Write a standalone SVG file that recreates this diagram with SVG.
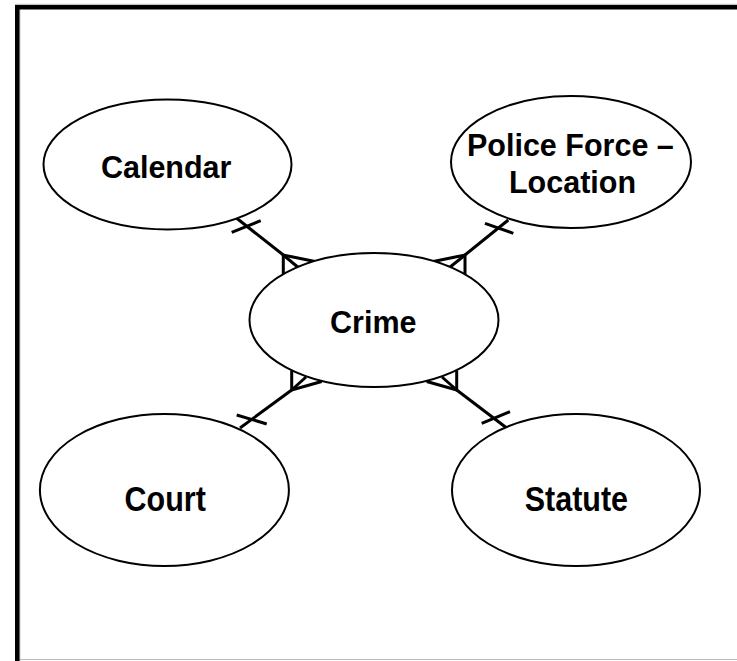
<svg xmlns="http://www.w3.org/2000/svg" width="737" height="661" viewBox="0 0 737 661">
<style>
.ent{fill:#fff;stroke:#000;stroke-width:2}
.lbl{font-family:"Liberation Sans",Arial,sans-serif;font-weight:bold;font-size:30.5px;fill:#000;text-anchor:middle}
.ln{stroke:#000;stroke-width:3;fill:none;stroke-linecap:butt}
</style>
<rect x="0" y="0" width="737" height="661" fill="#fff"/>
<g id="frame">
<line x1="15" y1="4.3" x2="737" y2="4.3" stroke="#bbb" stroke-width="1"/>
<line x1="20" y1="659.5" x2="737" y2="659.5" stroke="#bbb" stroke-width="1"/>
<line x1="19.8" y1="9" x2="19.8" y2="661" stroke="#999" stroke-width="0.8"/>
<rect x="15" y="5" width="722" height="4.5" fill="#000"/>
<rect x="15" y="5" width="4.5" height="656" fill="#000"/>
</g>
<g id="connectors">
<g id="calendar-crime">
<line class="ln" x1="236.7" y1="218.3" x2="283.3" y2="255"/>
<line class="ln" x1="231.7" y1="232.3" x2="260.7" y2="220.7"/>
<polyline class="ln" points="283.3,274 283.3,255 315,261.5"/>
<line class="ln" x1="283.3" y1="255" x2="298.3" y2="267.5"/>
</g>
<g id="police-crime">
<line class="ln" x1="508.3" y1="220" x2="465" y2="255"/>
<line class="ln" x1="485" y1="223.3" x2="513.3" y2="233.3"/>
<polyline class="ln" points="465,274 465,255 433.3,261.5"/>
<line class="ln" x1="465" y1="255" x2="449.5" y2="267.5"/>
</g>
<g id="court-crime">
<line class="ln" x1="240" y1="428" x2="291.7" y2="390"/>
<line class="ln" x1="236.7" y1="415" x2="266.7" y2="424"/>
<polyline class="ln" points="291.7,370.5 291.7,390 321.7,381.5"/>
<line class="ln" x1="291.7" y1="390" x2="306" y2="377"/>
</g>
<g id="statute-crime">
<line class="ln" x1="506.7" y1="428" x2="456.7" y2="390"/>
<line class="ln" x1="481.7" y1="423.3" x2="510" y2="411.7"/>
<polyline class="ln" points="456.7,370.5 456.7,390 426.7,381.5"/>
<line class="ln" x1="456.7" y1="390" x2="442" y2="377"/>
</g>
</g>
<g id="calendar">
<ellipse class="ent" cx="167.5" cy="164.5" rx="124" ry="65"/>
<text class="lbl" x="166.2" y="178.3">Calendar</text>
</g>
<g id="police-force-location">
<ellipse class="ent" cx="571" cy="162" rx="120" ry="66"/>
<text class="lbl" x="570.4" y="156">Police Force –</text>
<text class="lbl" x="572.5" y="193.3">Location</text>
</g>
<g id="crime">
<ellipse class="ent" cx="374" cy="320" rx="124.5" ry="67"/>
<text class="lbl" x="373.3" y="332.7">Crime</text>
</g>
<g id="court">
<ellipse class="ent" cx="164.4" cy="490" rx="124.5" ry="76"/>
<text class="lbl" transform="translate(165.2,510.8) scale(1,1.15)">Court</text>
</g>
<g id="statute">
<ellipse class="ent" cx="576" cy="490" rx="124" ry="76"/>
<text class="lbl" transform="translate(576.4,510.8) scale(1,1.15)">Statute</text>
</g>
</svg>
